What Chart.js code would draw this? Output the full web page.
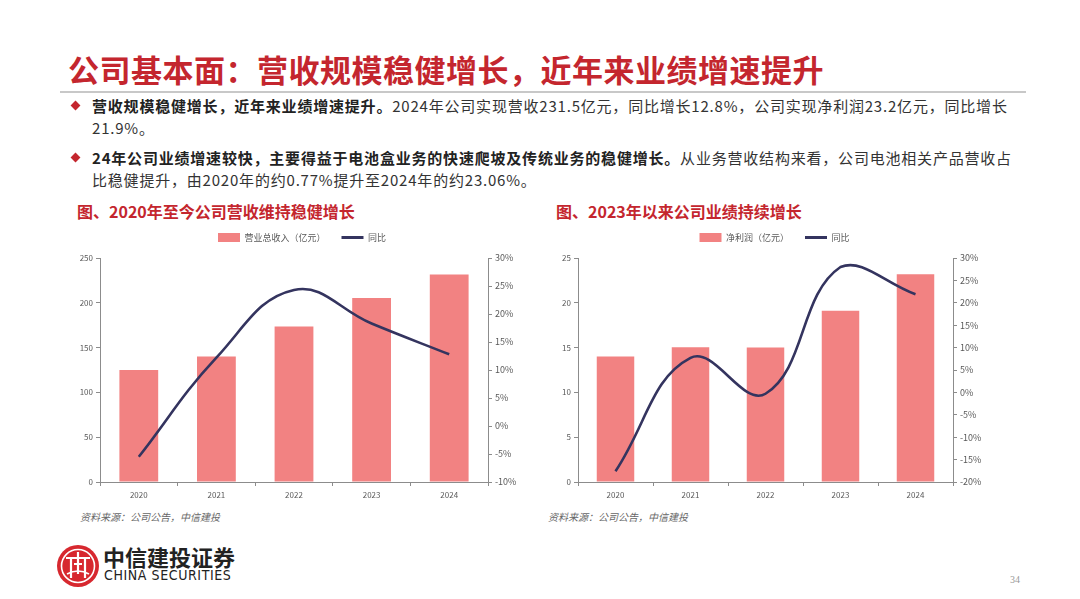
<!DOCTYPE html>
<html>
<head>
<meta charset="utf-8">
<script src="https://cdn.jsdelivr.net/npm/chart.js@4/dist/chart.umd.min.js"></script>
<style>
  body { margin: 0; width: 1080px; height: 599px; position: relative; background: #fff;
         font-family: "Noto Sans CJK SC", "Noto Sans", sans-serif; overflow: hidden; }
  .abs { position: absolute; }
  #title { left: 68px; top: 46px; font-size: 31px; font-weight: bold; color: #c4262e; white-space: nowrap; letter-spacing: 0.5px; }
  #rule { left: 60px; top: 91px; width: 966px; height: 2px; background: #c8c8c8; }
  .bullet { left: 92px; font-size: 15px; line-height: 22px; color: #333; white-space: nowrap; letter-spacing: 0.8px; }
  .bullet b { color: #222; }
  .dia { width: 7px; height: 7px; background: #c4262e; transform: rotate(45deg); }
  .ctitle { font-size: 16px; font-weight: bold; color: #c4262e; white-space: nowrap; }
  .src { font-size: 10px; font-style: italic; color: #666; white-space: nowrap; }
  .box { position: absolute; }
</style>
</head>
<body>
<div id="title" class="abs">公司基本面：营收规模稳健增长，近年来业绩增速提升</div>
<div id="rule" class="abs"></div>

<div class="abs dia" style="left:72px;top:102px"></div>
<div class="abs bullet" style="top:95px"><b>营收规模稳健增长，近年来业绩增速提升。</b>2024年公司实现营收231.5亿元，同比增长12.8%，公司实现净利润23.2亿元，同比增长<br>21.9%。</div>
<div class="abs dia" style="left:72px;top:154px"></div>
<div class="abs bullet" style="top:147px"><b>24年公司业绩增速较快，主要得益于电池盒业务的快速爬坡及传统业务的稳健增长。</b>从业务营收结构来看，公司电池相关产品营收占<br>比稳健提升，由2020年的约0.77%提升至2024年的约23.06%。</div>

<div class="abs ctitle" style="left:77px;top:199px">图、2020年至今公司营收维持稳健增长</div>
<div class="abs ctitle" style="left:556px;top:199px">图、2023年以来公司业绩持续增长</div>

<div class="box" style="left:60px;top:217px;width:470px;height:285px"><canvas id="c1"></canvas></div>
<div class="box" style="left:540px;top:217px;width:455px;height:285px"><canvas id="c2"></canvas></div>

<div class="abs src" style="left:80px;top:509px">资料来源：公司公告，中信建投</div>
<div class="abs src" style="left:548px;top:509px">资料来源：公司公告，中信建投</div>

<svg class="abs" style="left:56px;top:544px" width="44" height="44" viewBox="0 0 44 44">
  <circle cx="22" cy="22" r="21" fill="#d7282f"/>
  <circle cx="22" cy="22" r="16.5" fill="none" stroke="#fff" stroke-width="1.6"/>
  <path d="M10 14 H34 M15 14 V34 M29 14 V34 M22 8 V30 M18 20 H26" stroke="#fff" stroke-width="2.2" fill="none"/>
  <path d="M11 30 Q22 24 33 30" stroke="#fff" stroke-width="1.6" fill="none"/>
</svg>
<div class="abs" style="left:103px;top:540px;font-size:22px;font-weight:bold;color:#222;font-family:'Noto Sans CJK SC',serif">中信建投证券</div>
<div class="abs" style="left:104px;top:567px;font-size:14px;color:#222;font-family:'Liberation Sans Narrow','DejaVu Sans Condensed',sans-serif;letter-spacing:0.6px">CHINA SECURITIES</div>
<div class="abs" style="left:1010px;top:574px;font-size:10px;color:#999;font-family:'Liberation Serif',serif">34</div>

<script>
const years = ["2020", "2021", "2022", "2023", "2024"];

const revenueLabel = "营业总收入（亿元）";
const revenue = [125, 140, 173.6, 205.3, 231.5];
const revenueYoY = [-5.5, 12.2, 24.3, 18.3, 12.8];

const profitLabel = "净利润（亿元）";
const profit = [14, 15.05, 15.0, 19.1, 23.2];
const profitYoY = [-17.6, 7.7, -0.3, 28.0, 21.9];

const yoyLabel = "同比";

const barColor = "#f28282";
const lineColor = "#34345f";
const axisColor = "#8c8c8c";
const tickColor = "#595959";
const fontFamily = "'Noto Sans CJK SC', 'Noto Sans', sans-serif";

// extra room under the legend, without moving the legend itself
const legendGap = {
  id: "legendGap",
  beforeInit(chart) {
    const fit = chart.legend.fit;
    chart.legend.fit = function () {
      fit.call(this);
      this.height += 6;
    };
  }
};

function makeChart(id, bars, barLabel, yoy, left, right, leftWidth) {
  return new Chart(document.getElementById(id), {
    data: {
      labels: years,
      datasets: [
        {
          type: "line",
          label: yoyLabel,
          data: yoy,
          yAxisID: "y2",
          borderColor: lineColor,
          backgroundColor: lineColor,
          borderWidth: 2.6,
          pointRadius: 0,
          tension: 0.42
        },
        {
          type: "bar",
          label: barLabel,
          data: bars,
          yAxisID: "y",
          backgroundColor: barColor,
          categoryPercentage: 1,
          barPercentage: 0.5
        }
      ]
    },
    plugins: [legendGap],
    options: {
      responsive: true,
      maintainAspectRatio: false,
      animation: false,
      layout: {padding: {left: 14, right: 0, top: 0, bottom: 0}},
      plugins: {
        tooltip: {enabled: false},
        legend: {
          position: "top",
          labels: {
            usePointStyle: true,
            pointStyleWidth: 22,
            boxHeight: 9,
            padding: 16,
            color: tickColor,
            font: {size: 9, family: fontFamily},
            generateLabels: chart => [1, 0].map(i => {
              const ds = chart.data.datasets[i];
              return {
                text: ds.label,
                fillStyle: ds.backgroundColor,
                strokeStyle: ds.type === "line" ? ds.borderColor : ds.backgroundColor,
                lineWidth: ds.type === "line" ? 3 : 0,
                pointStyle: ds.type === "line" ? "line" : "rect",
                fontColor: tickColor,
                hidden: false,
                datasetIndex: i
              };
            })
          }
        }
      },
      scales: {
        x: {
          offset: true,
          grid: {display: true, drawOnChartArea: false, drawTicks: true, tickLength: 4, color: axisColor, offset: true},
          border: {color: axisColor},
          ticks: {color: tickColor, font: {size: 8, family: fontFamily}, padding: 4},
          afterFit: s => { s.height = 20; }
        },
        y: {
          position: "left",
          min: left.min, max: left.max,
          grid: {drawOnChartArea: false, tickLength: 4, color: axisColor},
          border: {color: axisColor},
          ticks: {stepSize: left.step, color: tickColor, font: {size: 8, family: fontFamily}, padding: 3},
          afterFit: s => { s.width = leftWidth; }
        },
        y2: {
          position: "right",
          min: right.min, max: right.max,
          grid: {drawOnChartArea: false, tickLength: 4, color: axisColor},
          border: {color: axisColor},
          ticks: {stepSize: 5, color: tickColor, font: {size: 9, family: fontFamily}, padding: 3,
                  callback: v => v + "%"},
          afterFit: s => { s.width = 42; }
        }
      }
    }
  });
}

makeChart("c1", revenue, revenueLabel, revenueYoY, {min: 0, max: 250, step: 50}, {min: -10, max: 30}, 26);
makeChart("c2", profit, profitLabel, profitYoY, {min: 0, max: 25, step: 5}, {min: -20, max: 30}, 24);
</script>
</body>
</html>
